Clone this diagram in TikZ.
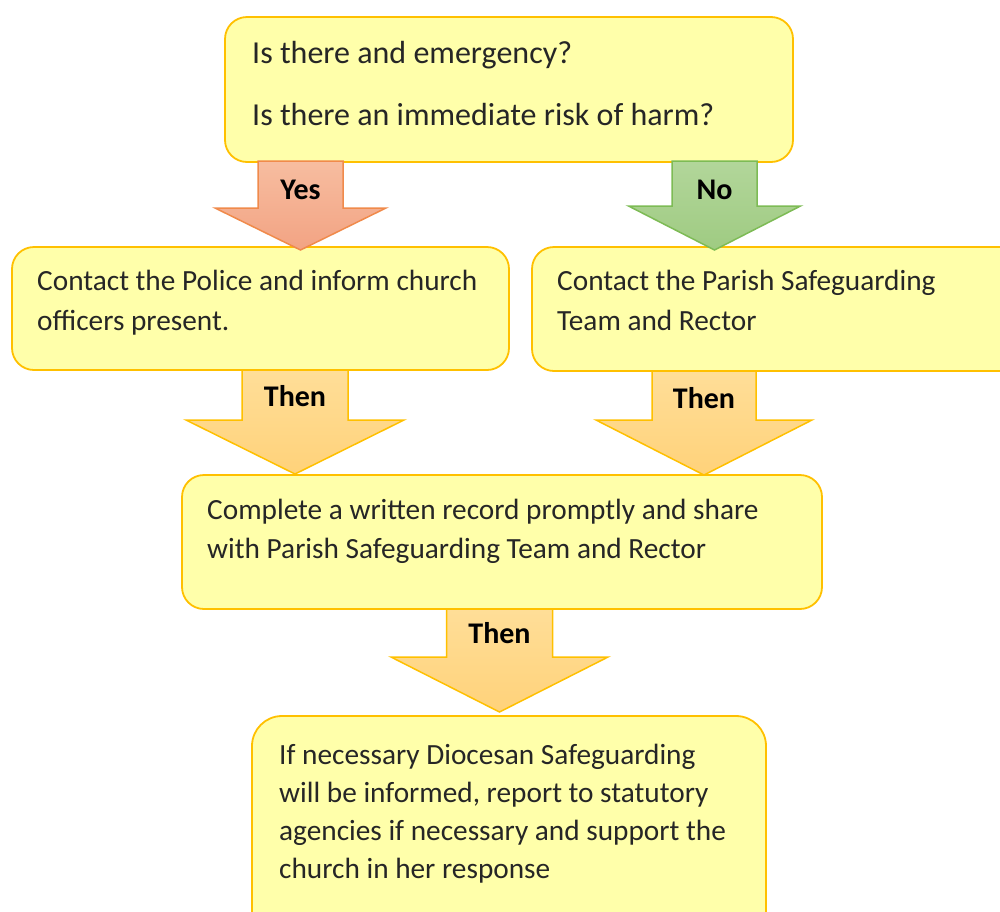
\documentclass[tikz,border=0pt]{standalone}
\usepackage{fontspec}
\setmainfont{Carlito}
\definecolor{boxfill}{HTML}{FFFFAA}
\definecolor{boxborder}{HTML}{FFC000}
\definecolor{yesTop}{HTML}{F7BDA0}
\definecolor{yesBot}{HTML}{F2A383}
\definecolor{yesBorder}{HTML}{F08A4B}
\definecolor{noTop}{HTML}{B2D69A}
\definecolor{noBot}{HTML}{9FCB82}
\definecolor{noBorder}{HTML}{7DBB55}
\definecolor{thenTop}{HTML}{FFDE98}
\definecolor{thenBot}{HTML}{FFD27A}
\definecolor{thenBorder}{HTML}{FFC000}
\definecolor{txtcol}{HTML}{262626}
\tikzset{
  box/.style={draw=boxborder, fill=boxfill, line width=1.8pt, rounded corners=22pt, anchor=north west, inner sep=0pt, outer sep=0pt},
  txt/.style={anchor=base west, inner sep=0pt, text=txtcol, font=\fontsize{29.3}{35}\selectfont},
  bigtxt/.style={txt, font=\fontsize{32}{38}\selectfont},
  lbl/.style={anchor=base, inner sep=0pt, text=black, font=\bfseries\fontsize{30}{36}\selectfont},
  yesarr/.style={draw=yesBorder, top color=yesTop, bottom color=yesBot, line width=1.5pt, line join=miter},
  noarr/.style={draw=noBorder, top color=noTop, bottom color=noBot, line width=1.5pt, line join=miter},
  thenarr/.style={draw=thenBorder, top color=thenTop, bottom color=thenBot, line width=1.5pt, line join=miter}
}
% style, centre x, top y, head y, tip y, half shaft, half head
\newcommand{\blockarr}[7]{%
  \path[#1] ({#2-#6},#3) -- ({#2+#6},#3) -- ({#2+#6},#4) -- ({#2+#7},#4) -- (#2,#5) -- ({#2-#7},#4) -- ({#2-#6},#4) -- cycle;}
\begin{document}
\begin{tikzpicture}[x=1pt,y=-1pt]
\useasboundingbox (0,0) rectangle (1000,911);
\clip (0,0) rectangle (1000,911);
% boxes
\node[box, minimum width=568pt, minimum height=145pt] (q) at (225,17) {};
\node[box, minimum width=497pt, minimum height=123pt] (police) at (12,247) {};
\node[box, minimum width=500pt, minimum height=124pt] (parish) at (532,247) {};
\node[box, minimum width=640pt, minimum height=134pt] (record) at (182,475) {};
\node[box, minimum width=514pt, minimum height=240pt, rounded corners=30pt] (dioc) at (252,716) {};
% texts
\node[bigtxt] (q1) at (252,63) {Is there and emergency?};
\node[bigtxt] (q2) at (252,125) {Is there an immediate risk of harm?};
\node[txt] (p1) at (37,290) {Contact the Police and inform church};
\node[txt] (p2) at (37,330) {officers present.};
\node[txt] (r1) at (557,290) {Contact the Parish Safeguarding};
\node[txt] (r2) at (557,330) {Team and Rector};
\node[txt] (c1) at (207,519) {Complete a written record promptly and share};
\node[txt] (c2) at (207,558) {with Parish Safeguarding Team and Rector};
\node[txt] (d1) at (279,764) {If necessary Diocesan Safeguarding};
\node[txt] (d2) at (279,802) {will be informed, report to statutory};
\node[txt] (d3) at (279,840) {agencies if necessary and support the};
\node[txt] (d4) at (279,878) {church in her response};
% arrows
\blockarr{yesarr}{300.5}{161}{208}{250}{42.5}{85.5}
\blockarr{noarr}{714.5}{161}{206}{250}{42.5}{86}
\blockarr{thenarr}{295}{370}{420}{474}{53}{109}
\blockarr{thenarr}{704}{371}{420}{475}{52}{108}
\blockarr{thenarr}{499.5}{609}{657}{712}{53}{108.5}
% labels
\node[lbl] (yes) at (300.5,199) {Yes};
\node[lbl] (no) at (714.5,199) {No};
\node[lbl] (then1) at (295,406) {Then};
\node[lbl] (then2) at (704,408) {Then};
\node[lbl] (then3) at (499.5,643) {Then};
\end{tikzpicture}
\end{document}
